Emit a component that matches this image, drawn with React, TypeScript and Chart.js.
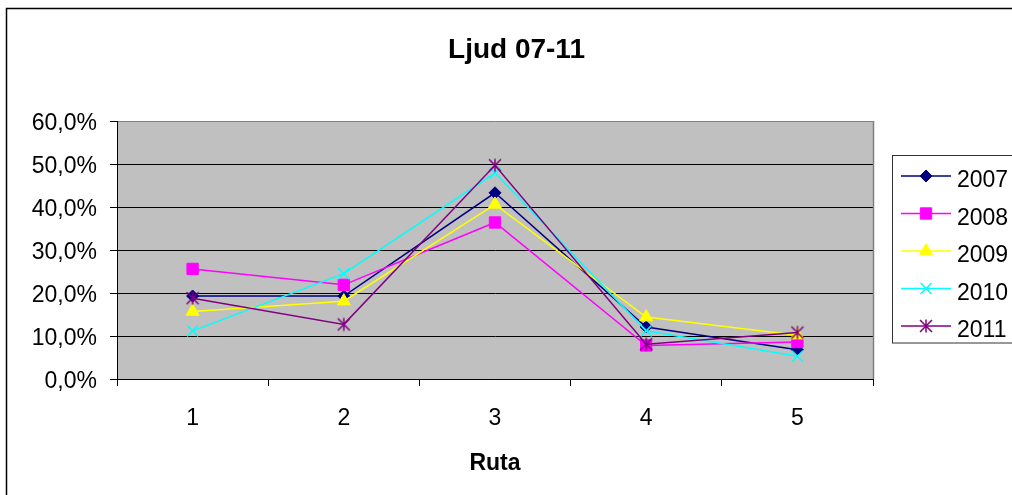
import React, { useEffect, useRef } from 'react';
import { Chart, registerables } from 'chart.js';
import { drawPoint } from 'chart.js/helpers';

Chart.register(...registerables);

const chartTitle = 'Ljud 07-11';
const xAxisTitle = 'Ruta';
const categories = ['1', '2', '3', '4', '5'];
const seriesNames = ['2007', '2008', '2009', '2010', '2011'];
const values2007 = [19.3, 19.3, 43.3, 12.1, 6.8];
const values2008 = [25.6, 21.9, 36.4, 7.8, 8.6];
const values2009 = [15.7, 18.1, 40.6, 14.4, 10.2];
const values2010 = [11.2, 24.5, 47.9, 11.2, 5.3];
const values2011 = [18.8, 12.7, 49.7, 8.1, 10.8];
const yTickValues = [0, 10, 20, 30, 40, 50, 60];
const seriesColors = ['#000080', '#FF00FF', '#FFFF00', '#00FFFF', '#800080'];

const FONT = '"Liberation Sans", Arial, Helvetica, sans-serif';

function makeAsterisk(color: string): HTMLCanvasElement {
  const size = 16;
  const c = document.createElement('canvas');
  c.width = size;
  c.height = size;
  const g = c.getContext('2d')!;
  g.strokeStyle = color;
  g.lineWidth = 1.5;
  const m = size / 2;
  const r = 6;
  g.beginPath();
  g.moveTo(m - r, m - r);
  g.lineTo(m + r, m + r);
  g.moveTo(m + r, m - r);
  g.lineTo(m - r, m + r);
  g.moveTo(m, m - r - 0.5);
  g.lineTo(m, m + r + 0.5);
  g.stroke();
  return c;
}

export default function App() {
  const ref = useRef<HTMLCanvasElement | null>(null);

  useEffect(() => {
    document.body.style.margin = '0';
    const canvas = ref.current;
    if (!canvas) return;

    const seriesValues = [values2007, values2008, values2009, values2010, values2011];
    const pointStyles: any[] = ['rectRot', 'rect', 'triangle', 'crossRot', makeAsterisk(seriesColors[4])];
    const pointRadii = [6, 8, 7.5, 7.8, 7];
    const pointBorders = [1, 1, 1, 1.5, 1.5];

    const datasets = seriesNames.map((name, i) => ({
      label: name,
      data: seriesValues[i],
      borderColor: seriesColors[i],
      backgroundColor: seriesColors[i],
      pointBackgroundColor: seriesColors[i],
      pointBorderColor: seriesColors[i],
      pointStyle: pointStyles[i],
      pointRadius: pointRadii[i],
      pointBorderWidth: pointBorders[i],
      borderWidth: 1.5,
      tension: 0,
      fill: false,
      order: seriesNames.length - i,
    }));

    const framePlugin = {
      id: 'frame',
      beforeDraw(chart: any) {
        const { ctx, chartArea: a, width, height } = chart;
        ctx.save();
        ctx.fillStyle = '#ffffff';
        ctx.fillRect(0, 0, width, height);
        ctx.strokeStyle = '#000000';
        ctx.lineWidth = 1.5;
        ctx.strokeRect(6.5, 8.5, width + 40, height + 40);
        ctx.fillStyle = '#C0C0C0';
        ctx.fillRect(a.left, a.top, a.right - a.left, a.bottom - a.top);
        ctx.restore();
      },
      beforeDatasetsDraw(chart: any) {
        const { ctx, chartArea: a } = chart;
        ctx.save();
        ctx.strokeStyle = '#808080';
        ctx.lineWidth = 1.5;
        ctx.beginPath();
        ctx.moveTo(Math.round(a.right) + 0.5, a.top);
        ctx.lineTo(Math.round(a.right) + 0.5, a.bottom);
        ctx.stroke();
        ctx.restore();
      },
      afterDraw(chart: any) {
        const { ctx } = chart;
        ctx.save();
        // Title
        ctx.fillStyle = '#000';
        ctx.font = `bold 28px ${FONT}`;
        ctx.textAlign = 'center';
        ctx.textBaseline = 'alphabetic';
        ctx.fillText(chartTitle, 516.5, 58);
        // Legend box
        ctx.strokeStyle = '#333';
        ctx.lineWidth = 1;
        ctx.strokeRect(892.5, 155.5, 200, 187.5);
        chart.data.datasets.forEach((ds: any, i: number) => {
          const y = 176 + i * 37.5;
          ctx.strokeStyle = ds.borderColor;
          ctx.lineWidth = 1.5;
          ctx.beginPath();
          ctx.moveTo(901, y);
          ctx.lineTo(951, y);
          ctx.stroke();
          ctx.fillStyle = ds.pointBackgroundColor;
          ctx.strokeStyle = ds.pointBorderColor;
          ctx.lineWidth = ds.pointBorderWidth;
          drawPoint(ctx, { pointStyle: ds.pointStyle, radius: ds.pointRadius, rotation: 0, borderWidth: ds.pointBorderWidth } as any, 926, y);
          ctx.fillStyle = '#000';
          ctx.font = `23px ${FONT}`;
          ctx.textAlign = 'left';
          ctx.textBaseline = 'alphabetic';
          ctx.fillText(ds.label, 957, y + 11.3);
        });
        ctx.restore();
      },
    };

    const chart = new Chart(canvas, {
      type: 'line',
      data: { labels: categories, datasets },
      options: {
        responsive: false,
        devicePixelRatio: 1,
        animation: false,
        events: [],
        layout: { padding: { top: 121, right: 139, left: 0, bottom: 0 } },
        plugins: {
          legend: { display: false },
          title: { display: false },
          tooltip: { enabled: false },
        },
        scales: {
          x: {
            type: 'category',
            offset: true,
            afterFit: (s: any) => { s.height = 116; },
            grid: {
              display: true,
              drawOnChartArea: false,
              drawTicks: true,
              tickLength: 7,
              offset: true,
              color: '#000',
              tickColor: '#000',
            },
            border: { display: true, color: '#000', width: 1 },
            ticks: { color: '#000', font: { family: FONT, size: 23 }, padding: 19, maxRotation: 0, autoSkip: false },
            title: {
              display: true,
              text: xAxisTitle,
              color: '#000',
              font: { family: FONT, size: 23, weight: 'bold' },
              padding: { top: 0, bottom: 17.7 },
            },
          },
          y: {
            min: 0,
            max: 60,
            afterFit: (s: any) => { s.width = 117; },
            afterBuildTicks: (s: any) => { s.ticks = yTickValues.map((v) => ({ value: v })); },
            grid: {
              color: (c: any) => (c.tick && c.tick.value === 60 ? '#808080' : '#000'),
              tickColor: '#000',
              tickLength: 7,
              lineWidth: 1,
            },
            border: { display: true, color: '#000', width: 1 },
            ticks: {
              color: '#000',
              font: { family: FONT, size: 23 },
              padding: 13,
              labelOffset: 2.5,
              callback: (v: any) => `${Number(v).toFixed(1).replace('.', ',')}%`,
            },
          },
        },
      },
      plugins: [framePlugin],
    } as any);

    return () => chart.destroy();
  }, []);

  return (
    <canvas ref={ref} width={1012} height={495} style={{ display: 'block', width: 1012, height: 495 }} />
  );
}
